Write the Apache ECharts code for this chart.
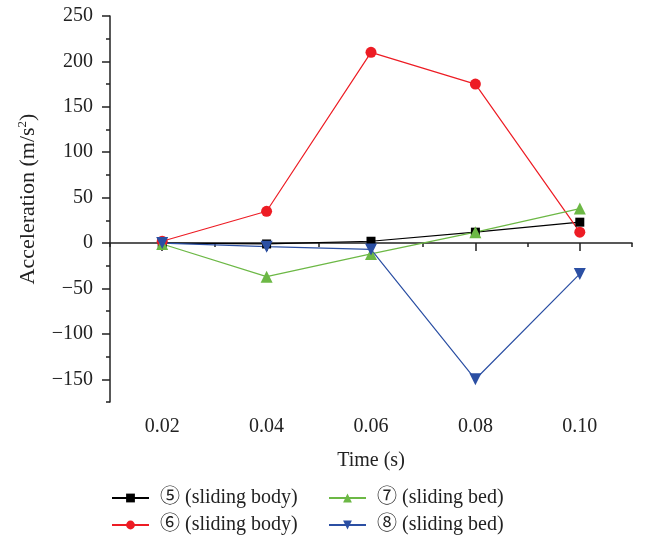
<!DOCTYPE html>
<html><head><meta charset="utf-8">
<script src="https://cdn.jsdelivr.net/npm/echarts@6/dist/echarts.min.js"></script>
<style>html,body{margin:0;padding:0;background:#fff}#c{width:645px;height:541px}</style>
</head><body><div id="c"></div>
<script>
var times = [0.02, 0.04, 0.06, 0.08, 0.10];
var s5 = [0, -1, 2, 12, 23];
var s6 = [2, 35, 210, 175, 12];
var s7 = [-1, -37, -12, 12, 38];
var s8 = [0, -4, -7, -150, -34];
var names = ['⑤ (sliding body)', '⑥ (sliding body)', '⑦ (sliding bed)', '⑧ (sliding bed)'];
var yMajor = [-150, -100, -50, 0, 50, 100, 150, 200, 250];
var yMinor = [-175, -125, -75, -25, 25, 75, 125, 175, 225];
var xMajor = [0.02, 0.04, 0.06, 0.08, 0.10];
var xMinor = [0.01, 0.03, 0.05, 0.07, 0.09, 0.11];

var FONT = '"Liberation Serif", "Noto Sans CJK SC", serif';
var FS = 20;
function pairs(ys){ return times.map(function(t,i){return [t, ys[i]];}); }
var axisCol = '#222';
var chart = echarts.init(document.getElementById('c'));
var legendPos = [[111, 488], [111, 515], [328, 488], [328, 515]];
var legends = names.map(function(n, i){
  return {data:[n], orient:'horizontal', left:legendPos[i][0], top:legendPos[i][1],
    itemWidth:37, itemHeight:11, padding:0,
    textStyle:{fontFamily:FONT, fontSize:FS, color:'#222', padding:[0,0,0,6]}};
});
chart.setOption({
  animation:false,
  textStyle:{fontFamily:FONT},
  grid:{left:110, right:13, top:16, bottom:139, containLabel:false},
  xAxis:[{
    type:'value', min:0.01, max:0.11, position:'bottom',
    splitLine:{show:false},
    axisLine:{show:true, lineStyle:{color:axisCol, width:1.5}},
    axisTick:{show:true, customValues:xMajor, length:8, lineStyle:{color:axisCol, width:1.5}},
    axisLabel:{customValues:xMajor, margin:15, fontFamily:FONT, fontSize:FS, color:'#222',
      formatter:function(v){return v.toFixed(2);}},
    name:'Time (s)', nameLocation:'middle', nameGap:49,
    nameTextStyle:{fontFamily:FONT, fontSize:FS, color:'#222'}
  },{
    type:'value', min:0.01, max:0.11, position:'bottom',
    splitLine:{show:false},
    axisLine:{show:false},
    axisTick:{show:true, customValues:xMinor, length:4, lineStyle:{color:axisCol, width:1.5}},
    axisLabel:{show:false}
  }],
  yAxis:[{
    type:'value', min:-175, max:250, position:'left',
    splitLine:{show:false},
    axisLine:{show:true, lineStyle:{color:axisCol, width:1.5}},
    axisTick:{show:true, customValues:yMajor, length:8, lineStyle:{color:axisCol, width:1.5}},
    axisLabel:{customValues:yMajor, margin:17, fontFamily:FONT, fontSize:FS, color:'#222',
      formatter:function(v){return v < 0 ? '\u2212' + Math.abs(v) : String(v);}},
    name:'Acceleration (m/s{sup|2})', nameLocation:'middle', nameGap:70, nameRotate:90,
    nameTextStyle:{fontFamily:FONT, fontSize:22, color:'#222', padding:[0,0,0,20],
      rich:{sup:{fontFamily:FONT, fontSize:13, color:'#222', padding:[0,0,11,0]}}}
  },{
    type:'value', min:-175, max:250, position:'left',
    splitLine:{show:false},
    axisLine:{show:false},
    axisTick:{show:true, customValues:yMinor, length:4, lineStyle:{color:axisCol, width:1.5}},
    axisLabel:{show:false}
  }],
  legend:legends,
  series:[
    {name:names[0], type:'line', data:pairs(s5), symbol:'rect', symbolSize:9,
     lineStyle:{color:'#000', width:1.2}, itemStyle:{color:'#000'}},
    {name:names[1], type:'line', data:pairs(s6), symbol:'circle', symbolSize:11,
     lineStyle:{color:'#ed1c24', width:1.2}, itemStyle:{color:'#ed1c24'}},
    {name:names[2], type:'line', data:pairs(s7), symbol:'triangle', symbolSize:12,
     lineStyle:{color:'#6cb845', width:1.2}, itemStyle:{color:'#6cb845'}},
    {name:names[3], type:'line', data:pairs(s8), symbol:'triangle', symbolRotate:180, symbolSize:12,
     lineStyle:{color:'#2b4fa3', width:1.2}, itemStyle:{color:'#2b4fa3'}}
  ]
});
</script></body></html>
